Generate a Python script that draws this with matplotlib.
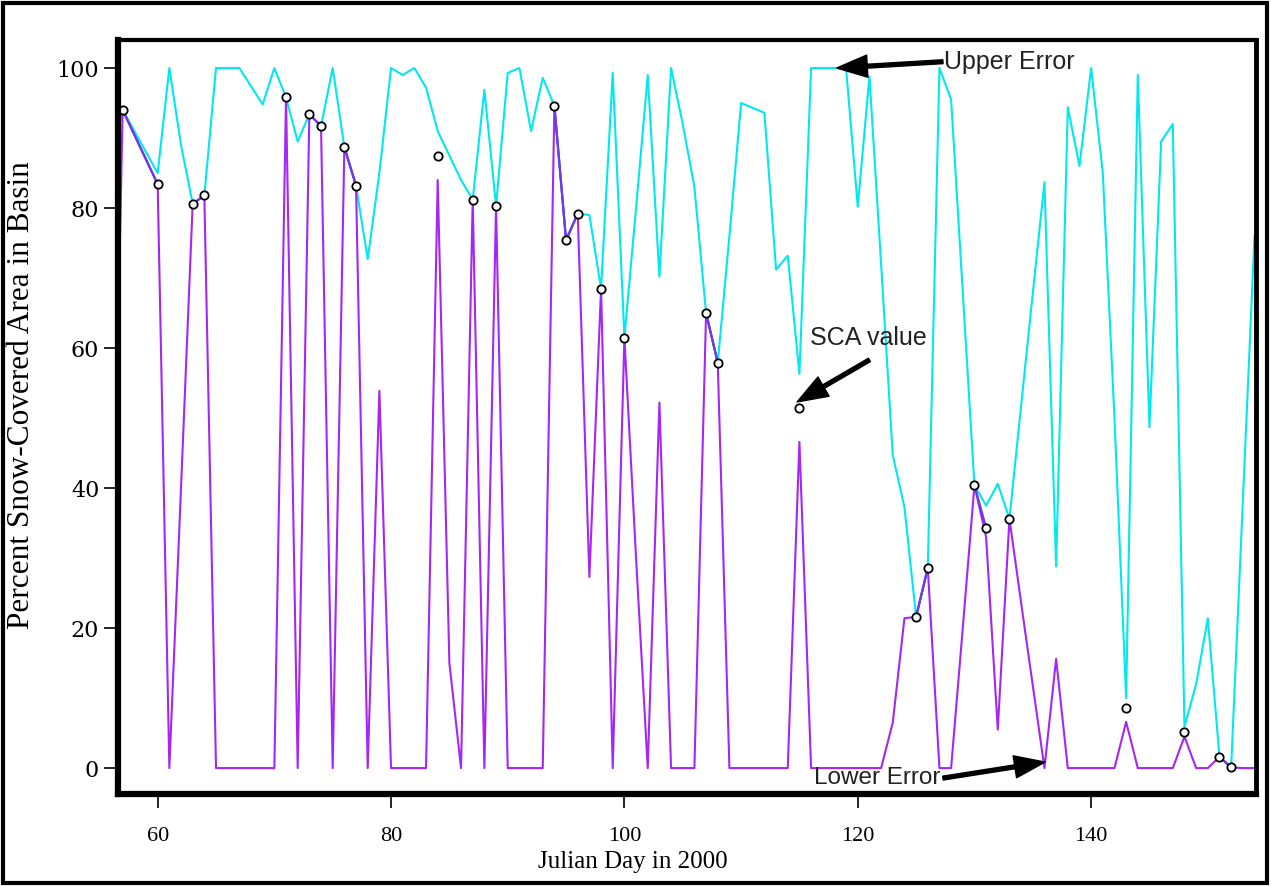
import pandas as pd
import matplotlib.pyplot as plt
from matplotlib.patches import Rectangle

# Julian days with data (58 and 59 are missing)
days = [56, 57] + list(range(60, 155))

# upper error bound, one value per day
upper = [86, 94,
         85, 100, 89, 80.6, 81.8, 100, 100, 100, 97.4, 94.8,        # 60-69
         100, 95.8, 89.5, 93.4, 91.7, 100, 88.7, 83.2, 72.7, 85,    # 70-79
         100, 99, 100, 97.2, 91, 87.5, 84, 81.2, 96.9, 80.3,        # 80-89
         99.3, 100, 91, 98.6, 94.6, 75.4, 79.2, 79, 68.5, 99.3,     # 90-99
         61.5, 80, 99, 70.2, 100, 92, 83, 65, 57.9, 76,             # 100-109
         95, 94.3, 93.6, 71.2, 73.2, 56.3, 100, 100, 100, 99.9,     # 110-119
         80.2, 98.8, 72, 44.7, 37.3, 21.6, 28.6, 100, 95.5, 68,     # 120-129
         40.4, 37.5, 40.6, 35.6, 51.8, 67.8, 83.7, 28.8, 94.4, 86,  # 130-139
         100, 85, 50, 10, 99, 48.7, 89.5, 92, 5.9, 12,              # 140-149
         21.4, 1.6, 0.1, 38, 76]                                    # 150-154

# lower error bound
lower = [14, 94,
         83.4, 0, 40, 80.6, 81.8, 0, 0, 0, 0, 0,                    # 60-69
         0, 95.8, 0, 93.4, 91.7, 0, 88.7, 83.2, 0, 53.9,            # 70-79
         0, 0, 0, 0, 84, 15, 0, 81.2, 0, 80.3,                      # 80-89
         0, 0, 0, 0, 94.6, 75.4, 79.2, 27.3, 68.5, 0,               # 90-99
         61.5, 30, 0, 52.2, 0, 0, 0, 65, 57.9, 0,                   # 100-109
         0, 0, 0, 0, 0, 46.6, 0, 0, 0, 0,                           # 110-119
         0, 0, 0, 6.5, 21.4, 21.6, 28.6, 0, 0, 20,                  # 120-129
         40.4, 33, 5.5, 35.6, 23.6, 11.8, 0, 15.6, 0, 0,            # 130-139
         0, 0, 0, 6.6, 0, 0, 0, 0, 4.5, 0,                          # 140-149
         0, 1.6, 0.1, 0, 0]                                         # 150-154

# snow-covered area observations
sca_days = [57, 60, 63, 64, 71, 73, 74, 76, 77, 84, 87, 89, 94, 95, 96, 98,
            100, 107, 108, 115, 125, 126, 130, 131, 133, 143, 148, 151, 152]
sca_vals = [94, 83.4, 80.6, 81.8, 95.8, 93.4, 91.7, 88.7, 83.2, 87.4, 81.2,
            80.3, 94.6, 75.4, 79.2, 68.5, 61.5, 65, 57.9, 51.5, 21.6, 28.6,
            40.4, 34.3, 35.6, 8.6, 5.2, 1.6, 0.1]

W, H = 1271, 886
fig = plt.figure(figsize=(W / 100, H / 100), dpi=100)
ax = fig.add_axes([118 / W, 1 - 794 / H, (1256 - 118) / W, (794 - 40) / H])

ax.plot(days, upper, color='#00e8f0', lw=1.5)
ax.plot(days, lower, color='#a526f5', lw=1.5)
sca_line = pd.Series(sca_vals, index=sca_days).reindex(days)
ax.plot(days, sca_line.values, color='#6b3be6', lw=1.6)
ax.plot(sca_days, sca_vals, 'o', ms=6, mfc='white', mec='black', mew=1.3)

ax.set_xlim(56.6, 154.13)
ax.set_ylim(-3.7, 104)
ax.set_xticks([60, 80, 100, 120, 140])
ax.set_yticks([0, 20, 40, 60, 80, 100])
ax.spines['left'].set_linewidth(4.5)
ax.spines['bottom'].set_linewidth(4.5)
ax.spines['top'].set_linewidth(3)
ax.spines['right'].set_linewidth(3.5)
ax.tick_params(direction='out', length=10, width=1.2, top=False, right=False)
ax.tick_params(axis='x', pad=14)
for t in ax.get_yticklabels():
    t.set_fontfamily('DejaVu Serif')
    t.set_fontsize(16)
for t in ax.get_xticklabels():
    t.set_fontfamily('Liberation Serif')
    t.set_fontsize(16)

fig.text(633 / W, 1 - 862 / H, 'Julian Day in 2000', ha='center', va='center',
         fontfamily='Liberation Serif', fontsize=18)
fig.text(22 / W, 1 - 395 / H, 'Percent Snow-Covered Area in Basin', ha='center',
         va='center', rotation=90, fontfamily='Liberation Serif', fontsize=22.5)

arrow = dict(arrowstyle='simple,head_length=1.1,head_width=0.8,tail_width=0.14',
             color='black', mutation_scale=20, shrinkA=0, shrinkB=0)
ax.annotate('', xy=(118.2, 100), xytext=(127.3, 100.9), arrowprops=arrow)
ax.text(127.4, 100.9, 'Upper Error', ha='left', va='center',
        fontfamily='Liberation Sans', fontsize=18, color='#222222')
ax.annotate('', xy=(114.8, 52.3), xytext=(121.0, 58.3), arrowprops=arrow)
ax.text(115.9, 61.4, 'SCA value', ha='left', va='center',
        fontfamily='Liberation Sans', fontsize=18, color='#222222')
ax.annotate('', xy=(136.05, 0.86), xytext=(127.3, -1.43), arrowprops=arrow)
ax.text(127.1, -1.4, 'Lower Error', ha='right', va='center',
        fontfamily='Liberation Sans', fontsize=17.5, color='#222222')

fig.add_artist(Rectangle((0.002, 0.003), 0.995, 0.994, transform=fig.transFigure,
                         fill=False, lw=3, ec='black'))

fig.savefig('out.png', dpi=100)
